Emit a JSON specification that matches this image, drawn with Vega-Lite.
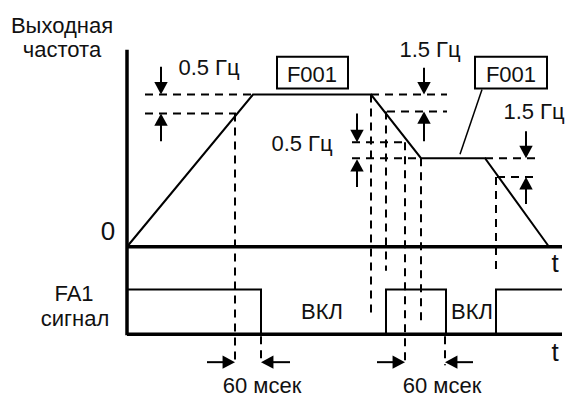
{
  "$schema": "https://vega.github.io/schema/vega-lite/v6.json",
  "width": 567,
  "height": 397,
  "padding": 0,
  "autosize": {"type": "fit", "contains": "padding"},
  "config": {"view": {"stroke": null}},
  "background": "white",
  "datasets": {
    "segs": [
      {"kind": "axis", "x": 127, "y": 50, "x2": 127, "y2": 337},
      {"kind": "axis", "x": 127, "y": 248, "x2": 562, "y2": 248},
      {"kind": "axis", "x": 127, "y": 336, "x2": 562, "y2": 336},
      {"kind": "dash", "x": 145, "y": 95, "x2": 253, "y2": 95},
      {"kind": "dash", "x": 145, "y": 114, "x2": 236, "y2": 114},
      {"kind": "dash", "x": 371, "y": 95, "x2": 447, "y2": 95},
      {"kind": "dash", "x": 387, "y": 112, "x2": 447, "y2": 112},
      {"kind": "dash", "x": 352, "y": 143, "x2": 408, "y2": 143},
      {"kind": "dash", "x": 352, "y": 159, "x2": 421, "y2": 159},
      {"kind": "dash", "x": 485, "y": 159, "x2": 535, "y2": 159},
      {"kind": "dash", "x": 497, "y": 178, "x2": 535, "y2": 178},
      {"kind": "dash", "x": 235, "y": 114, "x2": 235, "y2": 364},
      {"kind": "dash", "x": 371, "y": 95, "x2": 371, "y2": 320},
      {"kind": "dash", "x": 386, "y": 112, "x2": 386, "y2": 272},
      {"kind": "dash", "x": 405, "y": 143, "x2": 405, "y2": 367},
      {"kind": "dash", "x": 421, "y": 159, "x2": 421, "y2": 325},
      {"kind": "dash", "x": 496, "y": 178, "x2": 496, "y2": 272},
      {"kind": "dash", "x": 261, "y": 338, "x2": 261, "y2": 366},
      {"kind": "dash", "x": 445, "y": 338, "x2": 445, "y2": 367},
      {"kind": "shaft", "x": 161, "y": 67, "x2": 161, "y2": 85},
      {"kind": "shaft", "x": 161, "y": 124, "x2": 161, "y2": 142},
      {"kind": "shaft", "x": 424, "y": 68, "x2": 424, "y2": 85},
      {"kind": "shaft", "x": 424, "y": 122, "x2": 424, "y2": 142},
      {"kind": "shaft", "x": 357, "y": 114, "x2": 357, "y2": 133},
      {"kind": "shaft", "x": 357, "y": 170, "x2": 357, "y2": 188},
      {"kind": "shaft", "x": 526, "y": 132, "x2": 526, "y2": 149},
      {"kind": "shaft", "x": 526, "y": 188, "x2": 526, "y2": 205},
      {"kind": "shaft", "x": 207, "y": 364, "x2": 225, "y2": 364},
      {"kind": "shaft", "x": 271, "y": 364, "x2": 290, "y2": 364},
      {"kind": "shaft", "x": 377, "y": 364, "x2": 395, "y2": 364},
      {"kind": "shaft", "x": 455, "y": 364, "x2": 473, "y2": 364},
      {"kind": "leader", "x": 482, "y": 90, "x2": 460, "y2": 155}
    ],
    "lines": [
      {"g": "f", "i": 1, "x": 127, "y": 248},
      {"g": "f", "i": 2, "x": 253, "y": 95},
      {"g": "f", "i": 3, "x": 371, "y": 95},
      {"g": "f", "i": 4, "x": 421, "y": 159},
      {"g": "f", "i": 5, "x": 485, "y": 159},
      {"g": "f", "i": 6, "x": 549, "y": 248},
      {"g": "s1", "i": 1, "x": 127, "y": 291},
      {"g": "s1", "i": 2, "x": 261, "y": 291},
      {"g": "s1", "i": 3, "x": 261, "y": 336},
      {"g": "s2", "i": 1, "x": 386, "y": 336},
      {"g": "s2", "i": 2, "x": 386, "y": 291},
      {"g": "s2", "i": 3, "x": 446, "y": 291},
      {"g": "s2", "i": 4, "x": 446, "y": 336},
      {"g": "s3", "i": 1, "x": 496, "y": 336},
      {"g": "s3", "i": 2, "x": 496, "y": 291},
      {"g": "s3", "i": 3, "x": 562, "y": 291}
    ],
    "heads": [
      {"dir": "down", "x": 161, "y": 95},
      {"dir": "up", "x": 161, "y": 114},
      {"dir": "down", "x": 424, "y": 95},
      {"dir": "up", "x": 424, "y": 112},
      {"dir": "down", "x": 357, "y": 143},
      {"dir": "up", "x": 357, "y": 160},
      {"dir": "down", "x": 526, "y": 159},
      {"dir": "up", "x": 526, "y": 178},
      {"dir": "right", "x": 235, "y": 364},
      {"dir": "left", "x": 261, "y": 364},
      {"dir": "right", "x": 405, "y": 364},
      {"dir": "left", "x": 445, "y": 364}
    ],
    "boxes": [
      {"x": 277, "y": 57, "x2": 348, "y2": 89},
      {"x": 475, "y": 57, "x2": 547, "y2": 89}
    ],
    "labels": [
      {"text": "Выходная", "x": 62, "y": 33, "fs": 22},
      {"text": "частота", "x": 62, "y": 57, "fs": 22},
      {"text": "0.5 Гц", "x": 209, "y": 75, "fs": 22},
      {"text": "F001", "x": 312, "y": 82, "fs": 22},
      {"text": "1.5 Гц", "x": 430, "y": 57, "fs": 22},
      {"text": "F001", "x": 511, "y": 82, "fs": 22},
      {"text": "1.5 Гц", "x": 534, "y": 120, "fs": 22},
      {"text": "0.5 Гц", "x": 302, "y": 152, "fs": 22},
      {"text": "0", "x": 108, "y": 241, "fs": 26},
      {"text": "t", "x": 555, "y": 273, "fs": 26},
      {"text": "t", "x": 555, "y": 363, "fs": 26},
      {"text": "FA1", "x": 74, "y": 303, "fs": 22},
      {"text": "сигнал", "x": 75, "y": 328, "fs": 22},
      {"text": "ВКЛ", "x": 322, "y": 321, "fs": 22},
      {"text": "ВКЛ", "x": 472, "y": 321, "fs": 22},
      {"text": "60 мсек", "x": 262, "y": 395, "fs": 22},
      {"text": "60 мсек", "x": 442, "y": 395, "fs": 22}
    ]
  },
  "encoding": {
    "x": {"field": "x", "type": "quantitative", "scale": {"domain": [0, 567], "nice": false, "zero": false}, "axis": null},
    "y": {"field": "y", "type": "quantitative", "scale": {"domain": [0, 397], "nice": false, "zero": false, "reverse": true}, "axis": null}
  },
  "layer": [
    {
      "data": {"name": "segs"},
      "transform": [{"filter": "datum.kind === 'dash'"}],
      "mark": {"type": "rule", "color": "black", "strokeWidth": 2, "strokeDash": [8, 6]},
      "encoding": {"x2": {"field": "x2"}, "y2": {"field": "y2"}}
    },
    {
      "data": {"name": "segs"},
      "transform": [{"filter": "datum.kind === 'axis'"}],
      "mark": {"type": "rule", "color": "black", "strokeWidth": 3.5},
      "encoding": {"x2": {"field": "x2"}, "y2": {"field": "y2"}}
    },
    {
      "data": {"name": "segs"},
      "transform": [{"filter": "datum.kind === 'shaft'"}],
      "mark": {"type": "rule", "color": "black", "strokeWidth": 2},
      "encoding": {"x2": {"field": "x2"}, "y2": {"field": "y2"}}
    },
    {
      "data": {"name": "segs"},
      "transform": [{"filter": "datum.kind === 'leader'"}],
      "mark": {"type": "rule", "color": "black", "strokeWidth": 1.5},
      "encoding": {"x2": {"field": "x2"}, "y2": {"field": "y2"}}
    },
    {
      "data": {"name": "lines"},
      "mark": {"type": "line", "color": "black", "strokeWidth": 2, "strokeJoin": "miter"},
      "encoding": {"detail": {"field": "g"}, "order": {"field": "i", "type": "quantitative"}}
    },
    {
      "data": {"name": "heads"},
      "mark": {"type": "point", "filled": true, "color": "black", "opacity": 1, "size": 180, "strokeWidth": 0},
      "encoding": {
        "shape": {
          "field": "dir",
          "type": "nominal",
          "legend": null,
          "scale": {
            "domain": ["down", "up", "right", "left"],
            "range": ["M0,0L-1,-1.85L1,-1.85Z", "M0,0L-1,1.85L1,1.85Z", "M0,0L-1.85,-1L-1.85,1Z", "M0,0L1.85,-1L1.85,1Z"]
          }
        }
      }
    },
    {
      "data": {"name": "boxes"},
      "mark": {"type": "rect", "fill": "white", "stroke": "black", "strokeWidth": 2},
      "encoding": {"x2": {"field": "x2"}, "y2": {"field": "y2"}}
    },
    {
      "data": {"name": "labels"},
      "mark": {"type": "text", "font": "Liberation Sans", "align": "center", "baseline": "alphabetic", "color": "#111111"},
      "encoding": {
        "text": {"field": "text"},
        "size": {"field": "fs", "type": "quantitative", "scale": null}
      }
    }
  ]
}
